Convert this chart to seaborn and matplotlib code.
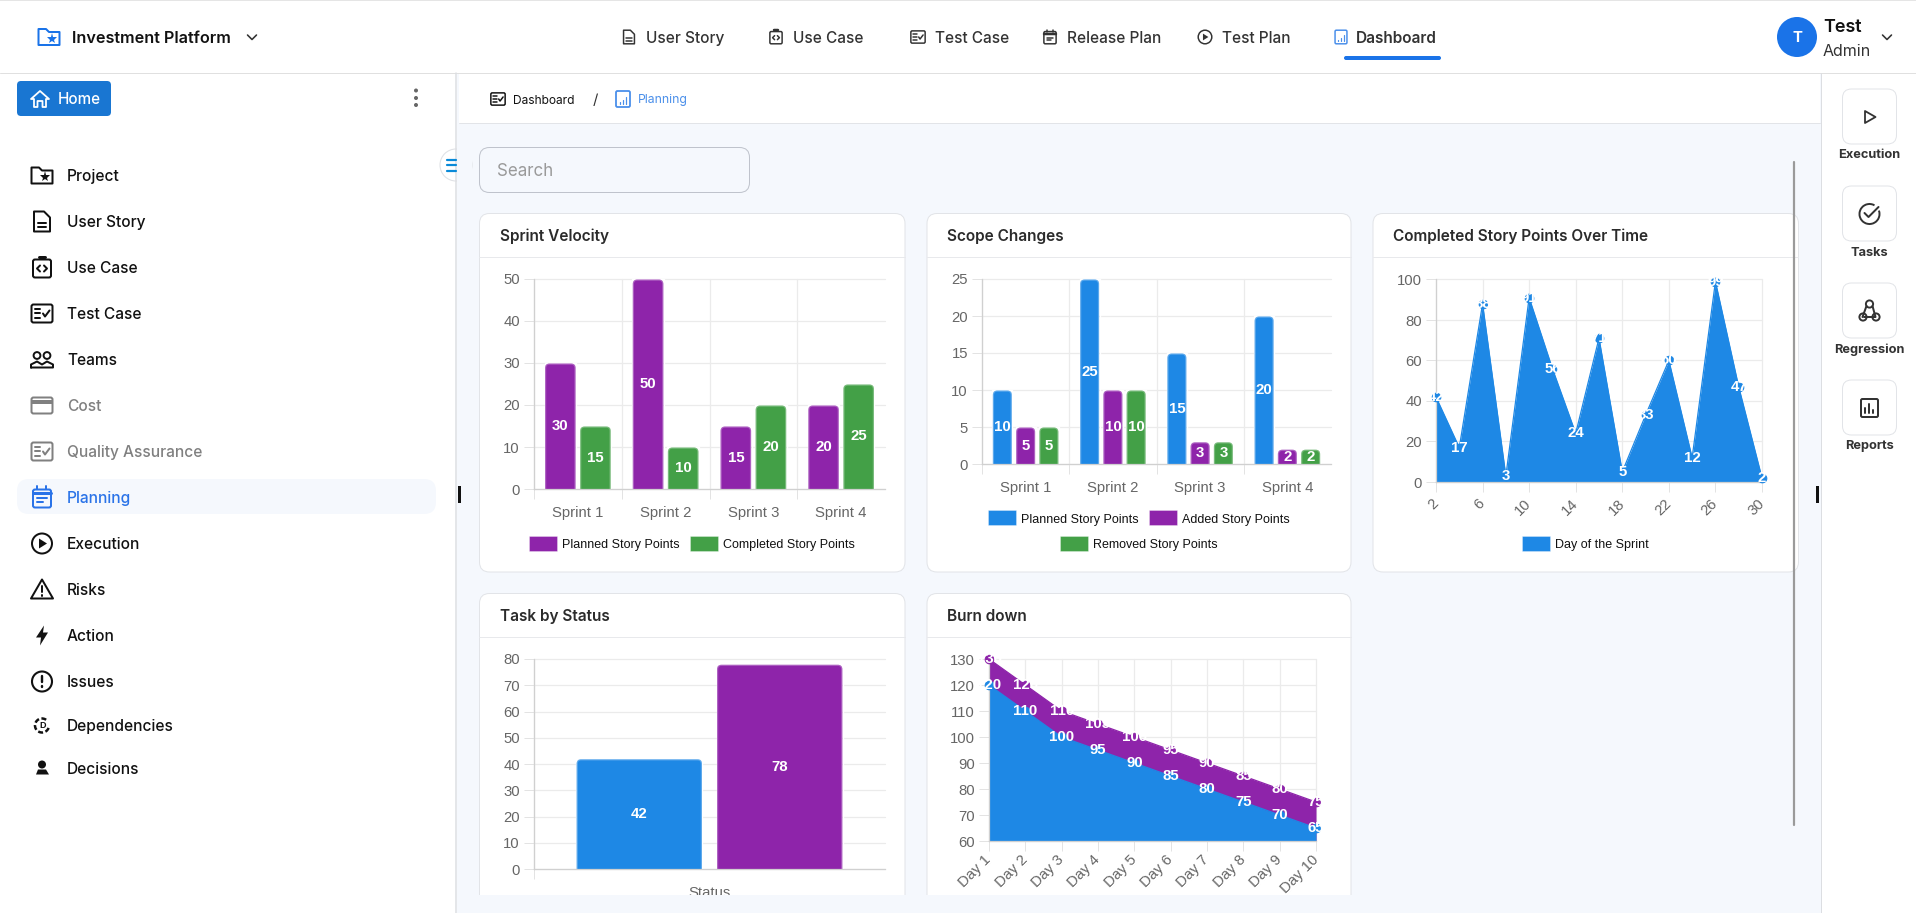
import matplotlib
matplotlib.use("Agg")
from matplotlib import pyplot as plt
from matplotlib.patches import Circle, FancyBboxPatch, Polygon, Rectangle, Arc
from matplotlib.transforms import IdentityTransform
import numpy as np
import pandas as pd
import seaborn as sns

# chart data
sprints = ["Sprint 1", "Sprint 2", "Sprint 3", "Sprint 4"]
velocity_planned = [30, 50, 15, 20]
velocity_completed = [15, 10, 20, 25]
scope_planned = [10, 25, 15, 20]
scope_added = [5, 10, 3, 2]
scope_removed = [5, 10, 3, 2]
sprint_days = [2, 4, 6, 8, 10, 12, 14, 16, 18, 20, 22, 24, 26, 28, 30]
day_points = [42, 17, 88, 3, 91, 56, 24, 71, 5, 33, 60, 12, 99, 47, 2]
status_groups = ["Open", "Closed"]
status_counts = [42, 78]
burn_days = ["Day 1", "Day 2", "Day 3", "Day 4", "Day 5", "Day 6", "Day 7", "Day 8", "Day 9", "Day 10"]
burn_actual = [120, 110, 100, 95, 90, 85, 80, 75, 70, 65]
burn_ideal = [130, 120, 110, 105, 100, 95, 90, 85, 80, 75]

# page text
side_items = ["Project", "User Story", "Use Case", "Test Case", "Teams", "Cost", "Quality Assurance",
              "Planning", "Execution", "Risks", "Action", "Issues", "Dependencies", "Decisions"]
nav_items = ["User Story", "Use Case", "Test Case", "Release Plan", "Test Plan", "Dashboard"]
panel_items = ["Execution", "Tasks", "Regression", "Reports"]

BLUE = "#1E88E5"
PURPLE = "#8E24AA"
GREEN = "#43A047"
PAGE_BG = "#F5F8FD"
W, H = 1916, 913
UI_FONT = "Inter"

sns.set_theme(style="ticks")
plt.rcParams["font.family"] = ["Liberation Sans", "DejaVu Sans"]

fig = plt.figure(figsize=(W / 100, H / 100), dpi=100, facecolor="white")
bg = fig.add_axes([0, 0, 1, 1], zorder=0)
top = fig.add_axes([0, 0, 1, 1], zorder=5)
for a in (bg, top):
    a.set_xlim(0, W)
    a.set_ylim(H, 0)
    a.axis("off")
    a.patch.set_alpha(0)


def rrect(ax, x0, y0, x1, y1, r=4, fc="white", ec="none", lw=1.0, z=1):
    p = FancyBboxPatch((x0, y0), x1 - x0, y1 - y0, boxstyle=f"round,pad=0,rounding_size={r}",
                       fc=fc, ec=ec, lw=lw * 0.72, zorder=z)
    ax.add_patch(p)
    return p


def rect(ax, x0, y0, x1, y1, fc, z=1):
    ax.add_patch(Rectangle((x0, y0), x1 - x0, y1 - y0, fc=fc, ec="none", zorder=z))


def seg(ax, xs, ys, color, lw=1.0, z=4):
    ax.plot(xs, ys, color=color, lw=lw * 0.72, zorder=z, solid_capstyle="round", solid_joinstyle="round")


def txt(ax, x, y, s, px, color="#111111", weight="normal", ha="left", family=UI_FONT):
    ax.text(x, y, s, fontsize=px * 0.72, color=color, fontweight=weight, ha=ha, va="center_baseline",
            family=family, zorder=6)


def outline(ax, pts, color, lw=2.0, fill="none"):
    ax.add_patch(Polygon(pts, closed=True, fc=fill, ec=color, lw=lw * 0.72, joinstyle="round", zorder=4))


# small icons, s is a scale on a box of about 22 px
def ic_folder(ax, c, y, col, s=1.0, lw=2.0):
    outline(ax, [(c - 10.5 * s, y - 8 * s), (c - 3 * s, y - 8 * s), (c, y - 5 * s), (c + 10.5 * s, y - 5 * s),
                 (c + 10.5 * s, y + 8 * s), (c - 10.5 * s, y + 8 * s)], col, lw)
    ax.plot([c + 3 * s], [y + 2 * s], marker="*", ms=8 * s, color=col, mew=0, zorder=5)


def ic_doc(ax, c, y, col, s=1.0, lw=2.0):
    outline(ax, [(c - 8 * s, y - 10 * s), (c + 2 * s, y - 10 * s), (c + 8 * s, y - 4 * s), (c + 8 * s, y + 10 * s),
                 (c - 8 * s, y + 10 * s)], col, lw)
    seg(ax, [c - 4 * s, c + 4 * s], [y + 2 * s] * 2, col, lw)
    seg(ax, [c - 4 * s, c + 4 * s], [y + 6 * s] * 2, col, lw)


def ic_code(ax, c, y, col, s=1.0, lw=2.0):
    rrect(ax, c - 9 * s, y - 8 * s, c + 9 * s, y + 10 * s, 2 * s, "none", col, lw, 4)
    seg(ax, [c - 3 * s, c + 3 * s], [y - 10 * s] * 2, col, lw + 1)
    seg(ax, [c - 2 * s, c - 5 * s, c - 2 * s], [y - 2 * s, y + 1 * s, y + 4 * s], col, lw)
    seg(ax, [c + 2 * s, c + 5 * s, c + 2 * s], [y - 2 * s, y + 1 * s, y + 4 * s], col, lw)


def ic_check(ax, c, y, col, s=1.0, lw=2.0):
    rrect(ax, c - 10.5 * s, y - 9 * s, c + 10.5 * s, y + 9 * s, 2 * s, "none", col, lw, 4)
    for dy in (-4.5, 0, 4.5):
        seg(ax, [c - 7 * s, c - 2 * s], [y + dy * s] * 2, col, lw)
    seg(ax, [c + 1 * s, c + 3 * s, c + 7.5 * s], [y, y + 3 * s, y - 3 * s], col, lw)


def ic_people(ax, c, y, col):
    for dx in (-5, 5):
        ax.add_patch(Circle((c + dx, y - 4), 3.4, fc="none", ec=col, lw=1.4, zorder=4))
    seg(ax, [c - 11, c - 11, c - 5, c, c + 5, c + 11, c + 11, c - 11], [y + 8, y + 5, y + 2, y + 5, y + 2, y + 5, y + 8, y + 8], col, 2)


def ic_card(ax, c, y, col):
    rrect(ax, c - 10.5, y - 8, c + 10.5, y + 8, 2, "none", col, 2, 4)
    rect(ax, c - 10, y - 5, c + 10, y - 1, col, 4)


def ic_calendar(ax, c, y, col, s=1.0, lw=2.0):
    rrect(ax, c - 9 * s, y - 8 * s, c + 9 * s, y + 10 * s, 2 * s, "none", col, lw, 4)
    seg(ax, [c - 9 * s, c + 9 * s], [y - 4 * s] * 2, col, lw + 1)
    seg(ax, [c - 4.5 * s] * 2, [y - 11 * s, y - 8 * s], col, lw)
    seg(ax, [c + 4.5 * s] * 2, [y - 11 * s, y - 8 * s], col, lw)
    seg(ax, [c - 5 * s, c + 5 * s], [y + 1 * s] * 2, col, lw)
    seg(ax, [c - 5 * s, c + 1 * s], [y + 5 * s] * 2, col, lw)


def ic_play(ax, c, y, col, s=1.0, lw=2.0):
    ax.add_patch(Circle((c, y), 10 * s, fc="none", ec=col, lw=lw * 0.72, zorder=4))
    ax.add_patch(Polygon([(c - 3 * s, y - 5 * s), (c + 5 * s, y), (c - 3 * s, y + 5 * s)], fc=col, ec="none", zorder=4))


def ic_alert(ax, c, y, col):
    outline(ax, [(c, y - 10), (c + 11, y + 9), (c - 11, y + 9)], col)
    seg(ax, [c, c], [y - 3, y + 3], col, 2)
    seg(ax, [c, c], [y + 6, y + 6.5], col, 2)


def ic_bolt(ax, c, y, col):
    ax.add_patch(Polygon([(c + 2, y - 10), (c - 6, y + 2), (c - 1, y + 2), (c - 2, y + 10), (c + 6, y - 3), (c + 1, y - 3)],
                         fc=col, ec="none", zorder=4))


def ic_issue(ax, c, y, col):
    ax.add_patch(Circle((c, y), 10, fc="none", ec=col, lw=1.5, zorder=4))
    seg(ax, [c, c], [y - 5, y + 1], col, 2.4)
    seg(ax, [c, c], [y + 5, y + 5.4], col, 2.4)


def ic_dep(ax, c, y, col):
    ax.add_patch(Arc((c, y), 14, 14, theta1=20, theta2=320, ec=col, lw=1.8, ls=(0, (2, 1)), zorder=4))
    ax.text(c + 1, y + 0.5, "D", fontsize=6.5, color=col, fontweight="bold", ha="center", va="center", zorder=5)


def ic_decide(ax, c, y, col):
    ax.add_patch(Circle((c, y - 4), 4, fc=col, ec="none", zorder=4))
    ax.add_patch(Polygon([(c - 6, y + 6), (c - 4, y + 1), (c + 4, y + 1), (c + 7, y + 6)], fc=col, ec="none", zorder=4))


def ic_chart(ax, c, y, col, s=1.0, lw=2.0):
    rrect(ax, c - 7 * s, y - 8 * s, c + 7 * s, y + 8 * s, 1.5 * s, "none", col, lw, 4)
    for dx, h in ((-3, 2), (0, 4), (3, 7)):
        seg(ax, [c + dx * s] * 2, [y + 5 * s, y + (5 - h) * s], col, 1.2)


def chevron(ax, c, y, col="#333333"):
    seg(ax, [c - 4.5, c, c + 4.5], [y - 2, y + 2.5, y - 2], col, 1.6)


# page frame
rect(bg, 457, 73, 1821, H, PAGE_BG)
rect(bg, 459, 73, 1820, 123, "white", 1.1)
seg(bg, [459, 1820], [123.5, 123.5], "#E2E4E8", 1, 2)
seg(bg, [0, W], [0.5, 0.5], "#DDDDDD", 1.5, 2)
seg(bg, [0, W], [73.5, 73.5], "#E0E0E0", 1, 2)
seg(bg, [456.5, 456.5], [73, H], "#DCDEE2", 1.5, 2)
seg(bg, [1821.5, 1821.5], [73, H], "#DCDEE2", 1, 2)

# top bar
ic_folder(bg, 49, 37, "#1A73E8")
txt(bg, 72.5, 37, "Investment Platform", 16.2, "#111111", "semibold")
chevron(bg, 252, 37)
nav_text_x = [646, 793, 935, 1067, 1222, 1356]
nav_icons = [ic_doc, ic_code, ic_check, ic_calendar, ic_play, ic_chart]
nav_icon_x = [629, 776, 918, 1050, 1205, 1341]
for i, name in enumerate(nav_items):
    last = name == "Dashboard"
    txt(bg, nav_text_x[i], 37, name, 15.4, "#333333", "semibold" if last else "medium")
    nav_icons[i](bg, nav_icon_x[i], 37, "#4A8FEA" if last else "#333333", 0.85 if last else 0.68, 1.5)
rrect(bg, 1344, 56, 1441, 60, 2, "#1A73E8", z=3)
bg.add_patch(Circle((1797, 37), 20, fc="#1A73E8", ec="none", zorder=3))
txt(bg, 1797, 37, "T", 15, "white", "bold", ha="center")
txt(bg, 1823, 25, "Test", 18, "#111111", "semibold")
txt(bg, 1823, 50, "Admin", 16, "#333333")
chevron(bg, 1887, 37)

# breadcrumb and search
ic_check(bg, 498, 99, "#111111", 0.68, 1.5)
txt(bg, 513.5, 99, "Dashboard", 12, "#111111")
txt(bg, 595, 99, "/", 15, "#333333", ha="center")
ic_chart(bg, 623, 99, "#4A8FEA", 1.0, 1.8)
txt(bg, 638, 99, "Planning", 12.2, "#4A8FEA")
rrect(bg, 479.5, 147.5, 749.5, 192.5, 10, PAGE_BG, "#BFC3CC", 1, 2)
txt(bg, 497, 170, "Search", 17, "#9A9A9A")

# side bar
rrect(bg, 17, 81, 111, 116, 4, "#1976D2", z=2)
outline(bg, [(31, 99), (40, 91), (49, 99), (46, 99), (46, 107), (42.5, 107), (42.5, 101), (37.5, 101), (37.5, 107),
             (34, 107), (34, 99)], "white", 1.8)
txt(bg, 58, 98.5, "Home", 15.2, "white", "medium")
for dot_y in (90.5, 98, 105):
    bg.add_patch(Circle((416, dot_y), 2, fc="#666666", ec="none", zorder=3))
rrect(bg, 17, 479, 436, 514, 12, PAGE_BG, z=2)
bg.add_patch(Circle((456, 165), 16, fc="white", ec="#E0E2E6", lw=0.8, zorder=1.5))
rect(bg, 457, 148, 472, 182, PAGE_BG, 1.6)
for bar_y in (160, 165.5, 171):
    seg(bg, [447.5, 456], [bar_y, bar_y], "#0A8AD8", 2.2, 3)
side_y = [176, 222, 268, 314, 360, 406, 452, 498, 544, 590, 636, 682, 726, 769]
side_icons = [ic_folder, ic_doc, ic_code, ic_check, ic_people, ic_card, ic_check, ic_calendar, ic_play, ic_alert,
              ic_bolt, ic_issue, ic_dep, ic_decide]
for name, y, icon in zip(side_items, side_y, side_icons):
    col = "#111111"
    if name in ("Cost", "Quality Assurance"):
        col = "#808080"
    if name == "Planning":
        col = "#2A73E8"
    txt(bg, 67, y - 0.8, name, 15.5, col, "medium")
    icon(bg, 42, y - 0.5, col)

# right panel
for i, name in enumerate(panel_items):
    y0 = 89 + i * 97
    rrect(bg, 1842.5, y0, 1896.5, y0 + 55, 9, "white", "#E2E4E8", 1, 2)
    txt(bg, 1869.5, y0 + 65, name, 12.8, "#333333", "bold", ha="center")
c = 1869.5
outline(bg, [(c - 4.5, 111), (c + 6, 117), (c - 4.5, 123)], "#333333", 1.8)
bg.add_patch(Arc((c, 214), 20, 20, theta1=-20, theta2=300, ec="#333333", lw=1.4, zorder=4))
seg(bg, [c - 5, c - 1, c + 9], [213, 217, 207], "#333333", 2)
for dx, dy in ((0, -7), (-6.5, 6), (6.5, 6)):
    bg.add_patch(Circle((c + dx, 311 + dy), 3.6, fc="none", ec="#333333", lw=1.4, zorder=4))
seg(bg, [c - 3, c - 7], [306, 317], "#333333", 2)
seg(bg, [c + 3, c + 6], [306, 317], "#333333", 2)
seg(bg, [c - 5, c + 6], [317, 317], "#333333", 2)
rrect(bg, c - 8.5, 399, c + 8.5, 417, 1.5, "none", "#333333", 2, 4)
for dx, h in ((-4, 5), (0, 9), (4, 3)):
    seg(bg, [c + dx] * 2, [413, 413 - h], "#333333", 2)


def card(x0, y0, x1, y1, title):
    rrect(bg, x0, y0, x1, y1, 10, "white", "#E2E4E8", 1, 2)
    seg(bg, [x0, x1], [y0 + 43.5, y0 + 43.5], "#E8E9EC", 1, 3)
    txt(bg, x0 + 20.5, y0 + 21.2, title, 15.4, "#2B2B2B", "semibold")


def chart_axes(left, upper, right, lower):
    ax = fig.add_axes([left / W, 1 - lower / H, (right - left) / W, (lower - upper) / H], zorder=2)
    ax.patch.set_alpha(0)
    return ax


def finish_axes(ax):
    sns.despine(ax=ax)
    ax.set_axisbelow(True)
    ax.grid(True, which="major", color="#EBEBEB", lw=0.9, clip_on=False)
    ax.tick_params(axis="both", which="major", length=7.2, width=0.72, color="#E3E3E3",
                   labelcolor="#666666", labelsize=10.7, pad=2.9)
    for side in ("left", "bottom"):
        ax.spines[side].set_color("#D0D0D0")
        ax.spines[side].set_linewidth(0.9)
    ax.set_xlabel("")
    ax.set_ylabel("")


def round_bars(ax):
    # seaborn places the bars, the visible shape is a rounded box on top of each one
    for bar in list(ax.patches):
        (x0, y0), (x1, y1) = ax.transData.transform([(bar.get_x(), 0), (bar.get_x() + bar.get_width(), bar.get_height())])
        shape = FancyBboxPatch((x0 + 0.5, y0 - 8), x1 - x0 - 1, y1 - y0 + 7.5, boxstyle="round,pad=0,rounding_size=4.5",
                               fc=bar.get_facecolor(), ec="none", transform=IdentityTransform(), zorder=2)
        rim = FancyBboxPatch((x0 + 1, y0 - 8), x1 - x0 - 2, y1 - y0 + 7, boxstyle="round,pad=0,rounding_size=4",
                             fc="none", ec=(1, 1, 1, 0.28), lw=1.0, transform=IdentityTransform(), zorder=2.1)
        ax.add_patch(shape)
        ax.add_patch(rim)
        bar.set_facecolor("none")


def bar_chart(ax, x_labels, series, colors, ymax, ystep, gap):
    df = pd.DataFrame(series, index=x_labels).reset_index(names="x").melt(id_vars="x", var_name="series", value_name="value")
    sns.barplot(data=df, x="x", y="value", hue="series", palette=colors, ax=ax, width=0.8, gap=gap,
                saturation=1, legend=False)
    n = len(x_labels)
    ax.set_xlim(-0.5, n - 0.5)
    ax.set_ylim(0, ymax)
    ax.set_yticks(np.arange(0, ymax + 1, ystep))
    ax.set_xticks(np.arange(n) - 0.5, labels=[])
    ax.set_xticks(np.arange(n), labels=x_labels, minor=True)
    ax.set_ylim(0, ymax)
    finish_axes(ax)
    ax.tick_params(axis="x", which="minor", length=0, labelcolor="#666666", labelsize=10.7, pad=12)
    for cont in ax.containers:
        ax.bar_label(cont, label_type="center", color="white", fontweight="bold", fontsize=10.8, fmt="%g", zorder=6)
    round_bars(ax)


def area_chart(ax, xs, series, colors, ymin, ymax, ystep):
    for values, col in zip(series, colors):
        ax.fill_between(xs, values, ymin, color=col, lw=0, zorder=2)
        sns.lineplot(x=xs, y=values, color=col, marker="o", markersize=6.2, markeredgecolor=col, lw=0.9, ax=ax,
                     clip_on=False, zorder=3)
    ax.set_ylim(ymin, ymax)
    ax.set_yticks(np.arange(ymin, ymax + 1, ystep))
    finish_axes(ax)
    for values in series:
        for x, v in zip(xs, values):
            ax.text(x, v, str(v), color="white", fontweight="bold", fontsize=10.8, ha="center", va="center",
                    clip_on=False, zorder=6)


def legend_item(x, y, label, col):
    bg.add_patch(Rectangle((x, y - 7.5), 28, 15, fc=col, ec=(1, 1, 1, 0.3), lw=0.7, zorder=3))
    txt(bg, x + 33, y, label, 12.5, "#111111", family="Liberation Sans")


# Sprint Velocity
card(479.5, 213.5, 905, 572, "Sprint Velocity")
ax1 = chart_axes(534, 279, 885, 489)
bar_chart(ax1, sprints, {"Planned Story Points": velocity_planned, "Completed Story Points": velocity_completed},
          [PURPLE, GREEN], 50, 10, 0.1)
legend_item(529, 543.5, "Planned Story Points", PURPLE)
legend_item(690, 543.5, "Completed Story Points", GREEN)

# Scope Changes
card(927, 213.5, 1351, 572, "Scope Changes")
ax2 = chart_axes(982, 279, 1331, 464)
bar_chart(ax2, sprints, {"Planned Story Points": scope_planned, "Added Story Points": scope_added,
                         "Removed Story Points": scope_removed}, [BLUE, PURPLE, GREEN], 25, 5, 0.14)
legend_item(988, 518, "Planned Story Points", BLUE)
legend_item(1149, 518, "Added Story Points", PURPLE)
legend_item(1060, 543.5, "Removed Story Points", GREEN)

# Completed Story Points Over Time
card(1373, 213.5, 1798.5, 572, "Completed Story Points Over Time")
ax3 = chart_axes(1436, 279.5, 1762, 482)
area_chart(ax3, sprint_days, [day_points], [BLUE], 0, 100, 20)
ax3.set_xlim(sprint_days[0], sprint_days[-1])
ax3.set_xticks(sprint_days[::2])
ax3.set_xticklabels(sprint_days[::2], rotation=45, ha="right", va="center", rotation_mode="anchor")
ax3.tick_params(axis="x", pad=7)
legend_item(1522, 543.5, "Day of the Sprint", BLUE)

# Task by Status
card(479.5, 593.5, 905, 930, "Task by Status")
ax4 = chart_axes(534, 659, 885, 869)
bar_chart(ax4, ["Status"], {status_groups[0]: [status_counts[0]], status_groups[1]: [status_counts[1]]},
          [BLUE, PURPLE], 80, 10, 0.1)

# Burn down
card(927, 593.5, 1351, 930, "Burn down")
ax5 = chart_axes(989, 659, 1316, 841)
burn_x = list(range(len(burn_days)))
area_chart(ax5, burn_x, [burn_ideal, burn_actual], [PURPLE, BLUE], 60, 130, 10)
ax5.set_xlim(burn_x[0], burn_x[-1])
ax5.set_xticks(burn_x)
ax5.set_xticklabels(burn_days, rotation=45, ha="right", va="center", rotation_mode="anchor")
ax5.tick_params(axis="x", pad=5)

# things that sit over the charts
rect(top, 457, 895, 1821, H, PAGE_BG, 1)
seg(top, [1794, 1794], [162, 825], "#9A9A9A", 2.2, 3)
rect(top, 458.5, 486, 461, 503, "#111111", 3)
rect(top, 1816.5, 486, 1819.5, 503, "#111111", 3)

fig.savefig("out.png", dpi=100, facecolor="white")
